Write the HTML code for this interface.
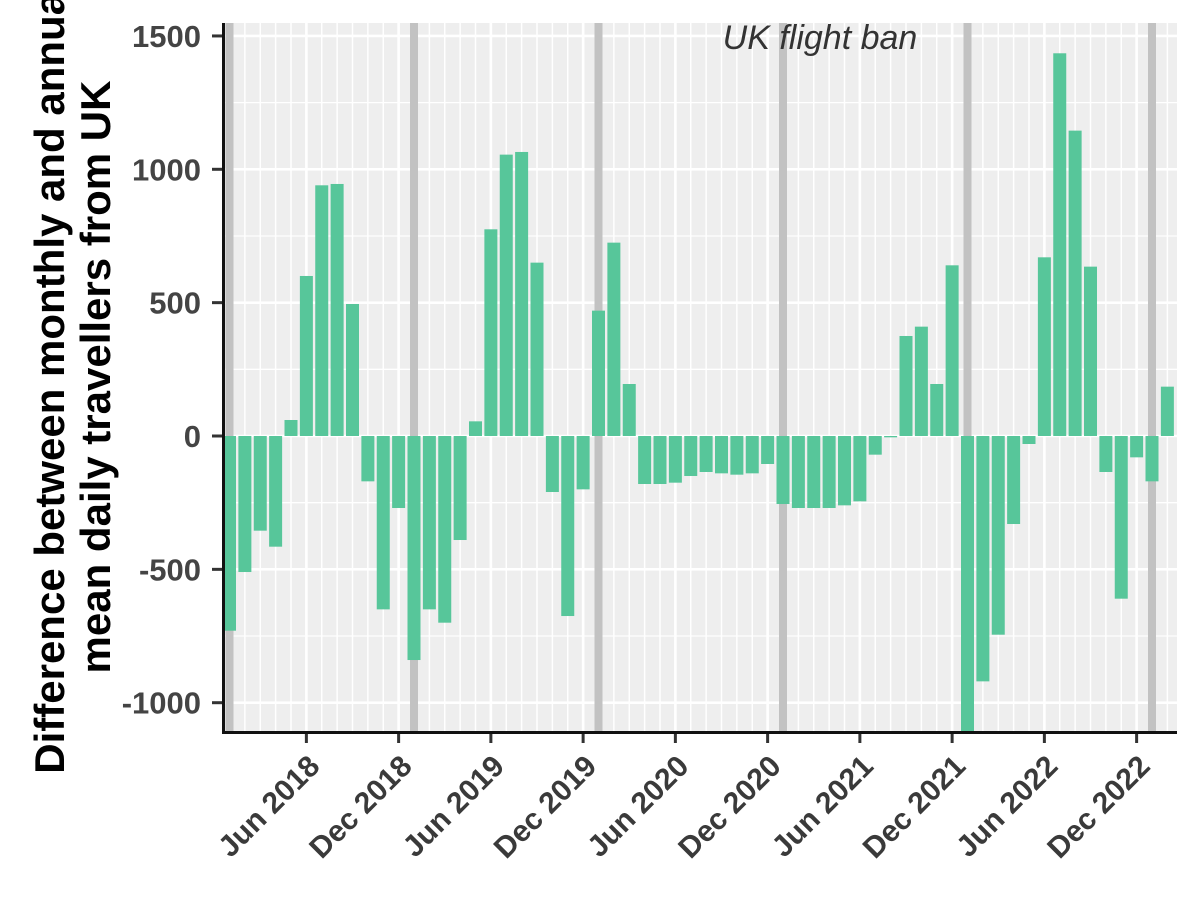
<!DOCTYPE html>
<html><head><meta charset="utf-8"><style>
body{margin:0;background:#fff;}
svg text{font-family:"Liberation Sans",sans-serif;}
</style></head><body>
<svg id="chart" width="1200" height="900" xmlns="http://www.w3.org/2000/svg"></svg>
<script>
const startYear = 2018;
const values = [
 -730,-510,-355,-415,60,600,940,945,495,-170,-650,-270,
 -840,-650,-700,-390,55,775,1055,1065,650,-210,-675,-200,
 470,725,195,-180,-180,-175,-150,-135,-140,-145,-140,-105,
 -255,-270,-270,-270,-260,-245,-70,-5,375,410,195,640,
 -1150,-920,-745,-330,-30,670,1435,1145,635,-135,-610,-80,
 -170,185];
const yTicks = [-1000,-500,0,500,1000,1500];
const xTickMonths = [5,11,17,23,29,35,41,47,53,59];
const xTickLabels = ["Jun 2018","Dec 2018","Jun 2019","Dec 2019","Jun 2020","Dec 2020","Jun 2021","Dec 2021","Jun 2022","Dec 2022"];
const banMonths = [0,12,24,36,48,60];

const svg = document.getElementById('chart');
const NS = "http://www.w3.org/2000/svg";
const L=222,R=1177,T=23,B=733;
function x(m){return 229.5 + m*15.375;}
function y(v){return 436 - v*0.2667;}
function mk(tag, attrs, parent){const e=document.createElementNS(NS,tag);for(const k in attrs)e.setAttribute(k,attrs[k]);(parent||svg).appendChild(e);return e;}

const defs = mk('defs',{});
const cp = mk('clipPath',{id:'pc'},defs);
mk('rect',{x:L,y:T,width:R-L,height:B-T},cp);

const panel = mk('rect',{x:L,y:T,width:R-L,height:B-T,fill:'#EEEEEE'});



const g = mk('g',{'clip-path':'url(#pc)'});
for(let v=-1250; v<=1750; v+=500){
  const l=mk('line',{x1:L,x2:R,y1:y(v),y2:y(v),stroke:'#fff','stroke-width':1.3},g);
  
  
}
for(let m=-1; m<=63; m++){
  const major = xTickMonths.includes(m);
  const l=mk('line',{x1:x(m),x2:x(m),y1:T,y2:B,stroke:'#fff','stroke-width':major?2.6:1.5},g);
  
  
}
yTicks.forEach(v=>{
  const l=mk('line',{x1:L,x2:R,y1:y(v),y2:y(v),stroke:'#fff','stroke-width':2.6},g);
  
  
});
banMonths.forEach(m=>{
  const l=mk('line',{x1:x(m),x2:x(m),y1:T,y2:B,stroke:'#C2C2C2','stroke-width':8},g);
  
  
});
values.forEach((v,i)=>{
  const y0=y(0), yv=y(v);
  const r=mk('rect',{x:x(i)-6.5,y:Math.min(y0,yv),width:13,height:Math.abs(yv-y0),fill:'#57C69A'},g);
  
  
});
const ann = mk('text',{x:820,y:49,'font-size':34,'font-style':'italic',fill:'#333','text-anchor':'middle'});
ann.textContent='UK flight ban';



const ya=mk('line',{x1:223.5,x2:223.5,y1:T,y2:B+1,stroke:'#111','stroke-width':3});


const xa=mk('line',{x1:L,x2:R,y1:732.5,y2:732.5,stroke:'#111','stroke-width':3});


yTicks.forEach(v=>{
  const t=mk('line',{x1:212,x2:222,y1:y(v),y2:y(v),stroke:'#333','stroke-width':3});
  
  
  const lb=mk('text',{x:201,y:y(v)+11,'font-size':31,'font-weight':'bold',fill:'#444','text-anchor':'end'});
  lb.textContent=v;
  
  
});
xTickMonths.forEach((m,i)=>{
  const t=mk('line',{x1:x(m),x2:x(m),y1:734,y2:743,stroke:'#333','stroke-width':3});
  
  
  const tx=x(m)+15, ty=768;
  const lb=mk('text',{x:tx,y:ty,'font-size':30,'font-weight':'bold',fill:'#3a3a3a','text-anchor':'end',transform:`rotate(-45 ${tx} ${ty})`});
  lb.textContent=xTickLabels[i];
  
  
});
const yt=mk('text',{x:0,y:0,'font-size':42,'font-weight':'bold',fill:'#000','text-anchor':'middle',transform:'translate(64 377) rotate(-90)'});


const t1=mk('tspan',{x:0,dy:0},yt); t1.textContent='Difference between monthly and annual';
const t2=mk('tspan',{x:0,dy:46},yt); t2.textContent='mean daily travellers from UK';
</script>
</body></html>
